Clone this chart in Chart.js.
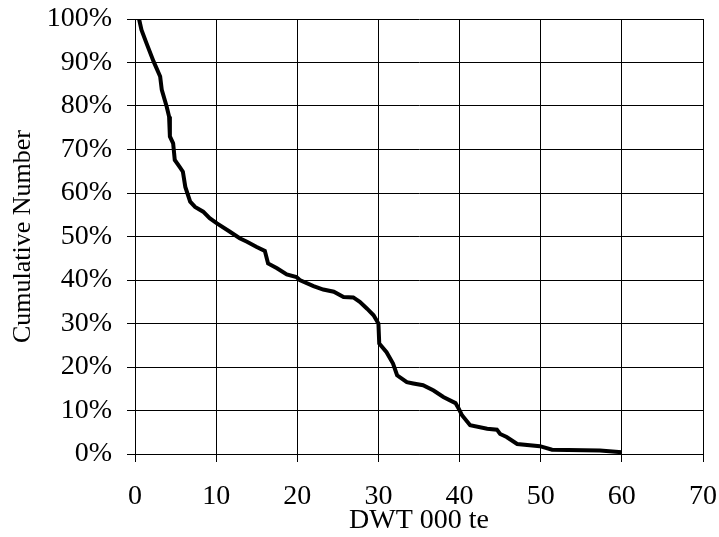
<!DOCTYPE html>
<html>
<head>
<meta charset="utf-8">
<script src="https://cdn.jsdelivr.net/npm/chart.js@4"></script>
<style>
  body { margin: 0; background: #fff; }
</style>
</head>
<body>
<canvas id="chart" width="719" height="537"></canvas>
<script>
// DWT (000 te) and cumulative share of ships (%)
var dwt = [0.5, 0.8, 1.4, 2.3, 3.1, 3.3, 3.9, 4.2, 4.3, 4.7,
	4.9, 5.5, 5.9, 6.2, 6.8, 7.4, 8.4, 9.2, 10.1, 11.7,
	12.9, 13.8, 15, 16, 16.4, 17.5, 18.7, 19.9, 20.3, 22,
	23.2, 24.5, 25.7, 26.9, 27.7, 28.6, 29.4, 30, 30.1, 31,
	31.8, 32.3, 33.5, 34.3, 35.5, 36.8, 38, 39.5, 39.9, 40.3,
	41.3, 43.4, 44.6, 45, 45.8, 47.1, 49.9, 51.4, 57.3, 60];
var cumulative = [100, 97.5, 94.5, 90.2, 86.8, 83.7, 79.9, 77.6, 73, 71.4,
	67.6, 66, 64.9, 61.4, 58, 56.8, 55.7, 54.2, 53, 51.1,
	49.6, 48.8, 47.6, 46.7, 43.8, 42.7, 41.3, 40.7, 40, 38.6,
	37.8, 37.3, 36.1, 36, 35, 33.4, 31.9, 30, 25.4, 23.4,
	20.8, 18.1, 16.5, 16.2, 15.8, 14.6, 13.1, 11.7, 10.4, 8.9,
	6.6, 5.8, 5.6, 4.6, 3.9, 2.3, 1.8, 1.0, 0.8, 0.4];

var xTicks = [0, 10, 20, 30, 40, 50, 60, 70];
var yTicks = [0, 10, 20, 30, 40, 50, 60, 70, 80, 90, 100];

var points = dwt.map(function (d, i) { return { x: d, y: cumulative[i] }; });

var serif = "'Liberation Serif', 'Times New Roman', serif";

var chart = document.getElementById('chart').getContext('2d');

// drop the label overhang padding so layout.padding alone sets the plot box
function noPad(s) {
	s.paddingTop = 0; s.paddingBottom = 0; s.paddingLeft = 0; s.paddingRight = 0;
}

var data = {
	datasets: [{
		data: points,
		borderColor: '#000000',
		borderWidth: 4,
		pointRadius: 0,
		tension: 0,
		fill: false
	}]
};

var options = {
	responsive: false,
	animation: false,
	layout: { padding: { top: 19, right: 16, left: 0, bottom: 0 } },
	plugins: { legend: { display: false }, tooltip: { enabled: false } },
	scales: {
		x: {
			type: 'linear',
			min: xTicks[0],
			max: xTicks[xTicks.length - 1],
			afterBuildTicks: function (s) { s.ticks = xTicks.map(function (v) { return { value: v }; }); },
			afterFit: function (s) { s.height = 83; noPad(s); },
			grid: { color: '#000', lineWidth: 1, tickLength: 8, tickColor: '#000' },
			border: { color: '#000', width: 1 },
			ticks: { color: '#000', padding: 18, font: { family: serif, size: 28 }, maxRotation: 0 },
			title: { display: true, text: 'DWT 000 te', color: '#000', padding: { top: 0, bottom: 0 }, font: { family: serif, size: 28 } }
		},
		y: {
			min: yTicks[0],
			max: yTicks[yTicks.length - 1],
			afterBuildTicks: function (s) { s.ticks = yTicks.map(function (v) { return { value: v }; }); },
			afterFit: function (s) { s.width = 135; noPad(s); },
			grid: { color: '#000', lineWidth: 1, tickLength: 8, tickColor: '#000' },
			border: { color: '#000', width: 1 },
			ticks: {
				color: '#000', padding: 15, font: { family: serif, size: 28 },
				callback: function (v) { return v + '%'; }
			},
			title: { display: true, text: 'Cumulative Number', color: '#000', padding: { top: 8, bottom: 0 }, font: { family: serif, size: 26 } }
		}
	}
};

var chartInstance = new Chart(chart, {
	type: 'line',
	data: data,
	options: options
});
</script>
</body>
</html>
